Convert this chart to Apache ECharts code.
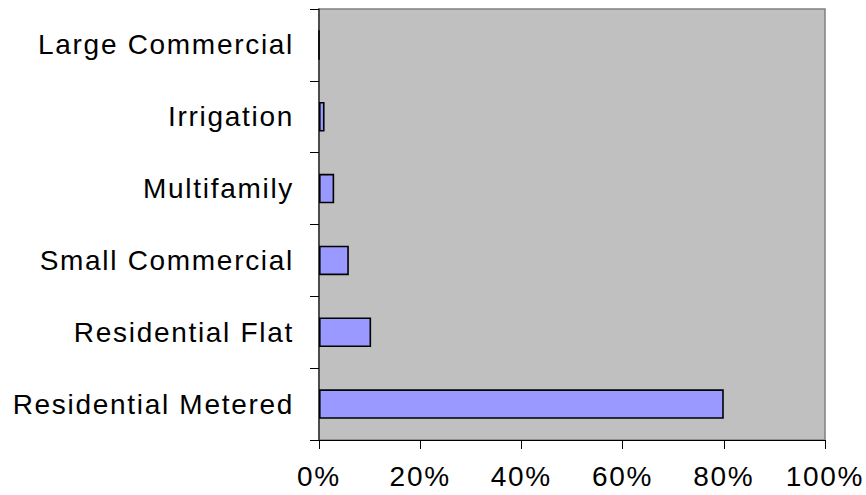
<!DOCTYPE html>
<html>
<head>
<meta charset="utf-8">
<script src="https://cdn.jsdelivr.net/npm/echarts@6/dist/echarts.min.js"></script>
<style>
  html, body { margin: 0; padding: 0; background: #ffffff; }
  #chart { width: 866px; height: 495px; }
  /* widen the glyph spacing of all axis labels */
  #chart text { letter-spacing: 1.7px; }
</style>
</head>
<body>
<div id="chart"></div>
<script>
// Customer classes, bottom to top
const categories = [
  'Residential Metered',
  'Residential Flat',
  'Small Commercial',
  'Multifamily',
  'Irrigation',
  'Large Commercial'
];
// Share of total, percent
const shares = [80, 10.3, 5.9, 3, 1.1, 0];
// Percent scale shown along the bottom
const percentTicks = [0, 20, 40, 60, 80, 100];

const chart = echarts.init(document.getElementById('chart'), null, { renderer: 'svg' });

const labelFont = {
  color: '#000000',
  fontFamily: '"Liberation Sans", Arial, sans-serif',
  fontSize: 28
};

chart.setOption({
  animation: false,
  backgroundColor: '#ffffff',
  grid: {
    left: 319,
    right: 41,
    top: 9,
    bottom: 55,
    show: true,
    backgroundColor: '#C0C0C0',
    borderColor: '#808080',
    borderWidth: 1.5
  },
  xAxis: {
    type: 'value',
    min: percentTicks[0],
    max: percentTicks[percentTicks.length - 1],
    interval: percentTicks[1] - percentTicks[0],
    axisLine: { show: true, lineStyle: { color: '#000000', width: 1.2 } },
    axisTick: { show: true, inside: false, length: 9, lineStyle: { color: '#000000', width: 1 } },
    splitLine: { show: false },
    axisLabel: Object.assign({ margin: 22, formatter: '{value}%' }, labelFont)
  },
  yAxis: {
    type: 'category',
    data: categories,
    axisLine: { show: true, lineStyle: { color: '#333333', width: 1.5 } },
    axisTick: { show: true, inside: false, length: 9, alignWithLabel: false, lineStyle: { color: '#000000', width: 1 } },
    splitLine: { show: false },
    axisLabel: Object.assign({ margin: 25 }, labelFont)
  },
  series: [{
    type: 'bar',
    data: shares,
    barCategoryGap: '59%',
    itemStyle: {
      color: '#9999FF',
      borderColor: '#000000',
      borderWidth: 1.6
    },
    silent: true
  }]
});
</script>
</body>
</html>
